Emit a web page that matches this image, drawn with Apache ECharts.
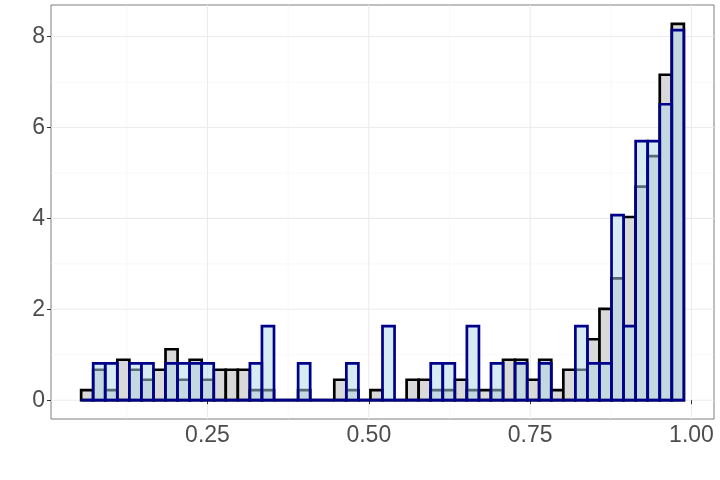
<!DOCTYPE html>
<html>
<head>
<meta charset="utf-8">
<script src="https://cdn.jsdelivr.net/npm/echarts@6/dist/echarts.min.js"></script>
<style>html,body{margin:0;padding:0;background:#fff}#c{width:720px;height:480px}</style>
</head>
<body>
<div id="c"></div>
<script>
// ---- data ----
const binStart = 0.0542;
const binWidth = 0.01868;
const grayDensity = [0.22,0.67,0.22,0.89,0.67,0.45,0.67,1.12,0.45,0.89,
  0.45,0.67,0.67,0.67,0.22,0.22,0,0,0.22,0,
  0,0.45,0.22,0,0.22,0,0,0.45,0.45,0.22,
  0.22,0.45,0.22,0.22,0.22,0.89,0.89,0.45,0.89,0.22,
  0.67,0.67,1.34,2.01,2.68,4.03,4.70,5.37,7.16,8.28];
const blueDensity = [0,0.81,0.81,0,0.81,0.81,0,0.81,0.81,0.81,
  0.81,0,0,0,0.81,1.63,0,0,0.81,0,
  0,0,0.81,0,0,1.63,0,0,0,0.81,
  0.81,0,1.63,0,0.81,0,0.81,0,0.81,0,
  0,1.63,0.81,0.81,4.07,1.63,5.70,5.70,6.51,8.14];
const xTicks = [0.25, 0.50, 0.75, 1.00];
const xMinorGrid = [0.125, 0.375, 0.625, 0.875];
const yTicks = [0, 2, 4, 6, 8];
const yMinorGrid = [1, 3, 5, 7];

// ---- build ----
const nBins = grayDensity.length;
const xMin = binStart - 2.5 * binWidth;
const xMax = binStart + (nBins + 2.5) * binWidth;
const yTop = Math.max(...grayDensity, ...blueDensity);
const yMin = -0.05 * yTop;
const yMax = yTop * 1.05;

function binData(arr) {
  return arr.map((v, i) => [binStart + i * binWidth, binStart + (i + 1) * binWidth, v]);
}
function barRenderer(fill, stroke) {
  return function (params, api) {
    const p0 = api.coord([api.value(0), api.value(2)]);
    const p1 = api.coord([api.value(1), 0]);
    return {
      type: 'rect',
      shape: { x: p0[0], y: p0[1], width: p1[0] - p0[0], height: p1[1] - p0[1] },
      style: { fill: fill, stroke: stroke, lineWidth: 2.7 }
    };
  };
}
const vGrid = xTicks.map(v => [v, 1]).concat(xMinorGrid.map(v => [v, 0]));
const hGrid = yTicks.map(v => [v, 1]).concat(yMinorGrid.map(v => [v, 0]));

const chart = echarts.init(document.getElementById('c'), null, { renderer: 'canvas' });
const font = '"Liberation Sans", Arial, sans-serif';
chart.setOption({
  animation: false,
  backgroundColor: '#ffffff',
  grid: { left: 51, right: 6, top: 5, bottom: 61, show: true, borderColor: '#7f7f7f', borderWidth: 1, backgroundColor: 'transparent' },
  xAxis: {
    type: 'value', min: xMin, max: xMax,
    axisLine: { show: false },
    splitLine: { show: false },
    axisTick: { show: true, length: 4, lineStyle: { color: '#333333', width: 1 }, customValues: xTicks },
    axisLabel: { customValues: xTicks, color: '#4d4d4d', fontSize: 23, fontFamily: font, margin: 5,
      formatter: v => v.toFixed(2) }
  },
  yAxis: {
    type: 'value', min: yMin, max: yMax,
    axisLine: { show: false },
    splitLine: { show: false },
    axisTick: { show: true, length: 4, lineStyle: { color: '#333333', width: 1 }, customValues: yTicks },
    axisLabel: { customValues: yTicks, color: '#4d4d4d', fontSize: 23, fontFamily: font, margin: 6,
      formatter: v => String(v) }
  },
  series: [
    {
      type: 'custom', z: 0, silent: true,
      data: vGrid,
      renderItem: function (params, api) {
        const cs = params.coordSys;
        const x = api.coord([api.value(0), 0])[0];
        const major = api.value(1) === 1;
        return { type: 'line', shape: { x1: x, y1: cs.y, x2: x, y2: cs.y + cs.height },
          style: { stroke: major ? '#ebebeb' : '#f4f4f4', lineWidth: major ? 1.1 : 0.6 } };
      }
    },
    {
      type: 'custom', z: 0, silent: true,
      data: hGrid.map(d => [xMin, d[0], d[1]]),
      renderItem: function (params, api) {
        const cs = params.coordSys;
        const y = api.coord([xMin, api.value(1)])[1];
        const major = api.value(2) === 1;
        return { type: 'line', shape: { x1: cs.x, y1: y, x2: cs.x + cs.width, y2: y },
          style: { stroke: major ? '#ebebeb' : '#f4f4f4', lineWidth: major ? 1.1 : 0.6 } };
      }
    },
    {
      type: 'custom', z: 2, silent: true,
      data: binData(grayDensity),
      encode: { x: [0, 1], y: 2 },
      renderItem: barRenderer('#d9d9d9', '#000000')
    },
    {
      type: 'custom', z: 3, silent: true,
      data: binData(blueDensity),
      encode: { x: [0, 1], y: 2 },
      renderItem: barRenderer('rgba(173,216,230,0.5)', '#00008b')
    }
  ]
});
</script>
</body>
</html>
